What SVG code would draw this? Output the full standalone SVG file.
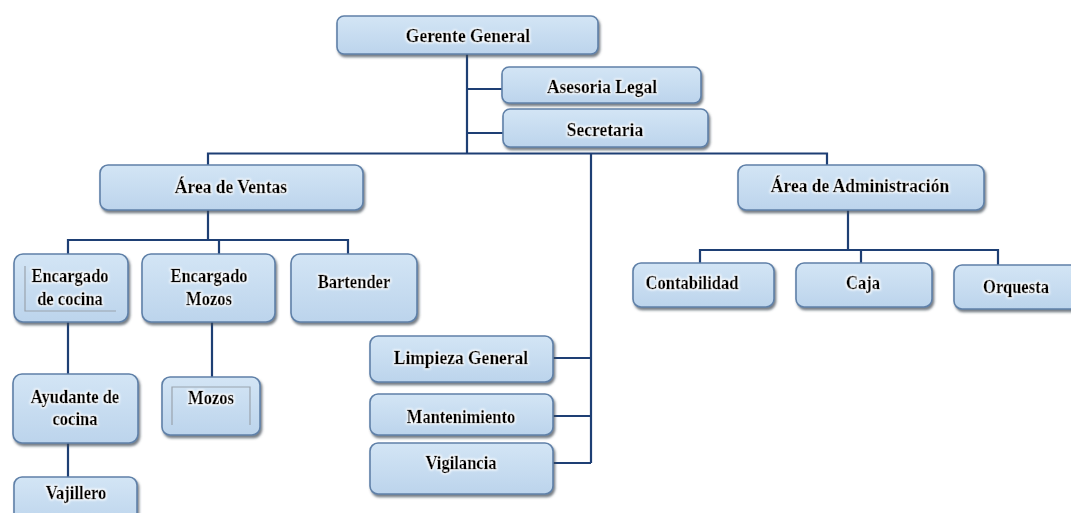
<svg xmlns="http://www.w3.org/2000/svg" width="1071" height="513" viewBox="0 0 1071 513">
<style>
.box{fill:url(#g);stroke:#5f80a8;stroke-width:1.6;filter:url(#sh)}
.c{fill:none;stroke:#1e3f74;stroke-width:2.2}
.t{font-family:"Liberation Serif","Times New Roman",serif;font-weight:bold;font-size:18px;fill:#000;stroke:#000;stroke-width:0.35;text-anchor:middle;filter:url(#glow);transform-box:fill-box;transform-origin:center;transform:scaleX(0.92)}
.l{font-size:19px}
.f{fill:none;stroke:#9aa3ad;stroke-width:1.2}
</style>
<defs>
<linearGradient id="g" x1="0" y1="0" x2="0" y2="1">
<stop offset="0" stop-color="#d3e5f5"/>
<stop offset="1" stop-color="#bcd4ec"/>
</linearGradient>
<filter id="sh" x="-10%" y="-20%" width="130%" height="150%">
<feDropShadow dx="1.5" dy="2.5" stdDeviation="1.3" flood-color="#3a4552" flood-opacity="0.7"/>
</filter>
<filter id="glow" x="-10%" y="-30%" width="120%" height="160%">
<feMorphology in="SourceAlpha" operator="dilate" radius="1" result="d"/>
<feGaussianBlur in="d" stdDeviation="1" result="b"/>
<feFlood flood-color="#ffffff"/>
<feComposite in2="b" operator="in" result="w"/>
<feMerge><feMergeNode in="w"/><feMergeNode in="SourceGraphic"/></feMerge>
</filter>
</defs>
<g id="connectors">
<path class="c" d="M467,54 V153.5 M467,89 H502 M467,133 H503"/>
<path class="c" d="M208,165 V153.5 H827 V165"/>
<path class="c" d="M208,210 V240 M68,254 V240 H348 V254 M219,240 V254"/>
<path class="c" d="M68,322 V374 M68,443 V477 M212,322 V377"/>
<path class="c" d="M591,153.5 V463 M553,358 H591 M553,416 H591 M553,463 H591"/>
<path class="c" d="M848,210 V250 M700,263 V250 H998 V265 M861,250 V263"/>
</g>
<g id="gerente"><rect class="box" x="337" y="16" width="261" height="38" rx="7"/><text class="t l" x="468" y="42">Gerente General</text></g>
<g id="asesoria"><rect class="box" x="502" y="67" width="199" height="36" rx="7"/><text class="t l" x="602" y="93">Asesoria Legal</text></g>
<g id="secretaria"><rect class="box" x="503" y="109" width="205" height="38" rx="7"/><text class="t l" x="605" y="136">Secretaria</text></g>
<g id="ventas"><rect class="box" x="100" y="165" width="263" height="45" rx="8"/><text class="t l" x="231" y="193">Área de Ventas</text></g>
<g id="administracion"><rect class="box" x="738" y="165" width="246" height="45" rx="8"/><text class="t l" x="860" y="192">Área de Administración</text></g>
<g id="enc-cocina"><rect class="box" x="14" y="254" width="114" height="68" rx="9"/><path class="f" d="M25,266 V311 H116"/><text class="t" x="70" y="282">Encargado</text><text class="t" x="70" y="305">de cocina</text></g>
<g id="enc-mozos"><rect class="box" x="142" y="254" width="133" height="68" rx="9"/><text class="t" x="209" y="282">Encargado</text><text class="t" x="209" y="305">Mozos</text></g>
<g id="bartender"><rect class="box" x="291" y="254" width="126" height="68" rx="9"/><text class="t" x="354" y="288">Bartender</text></g>
<g id="ayudante"><rect class="box" x="13" y="374" width="125" height="69" rx="9"/><text class="t" x="75" y="403">Ayudante de</text><text class="t" x="75" y="425">cocina</text></g>
<g id="mozos"><rect class="box" x="162" y="377" width="98" height="58" rx="8"/><path class="f" d="M172,425 V387 H250 V425"/><text class="t" x="211" y="404">Mozos</text></g>
<g id="vajillero"><rect class="box" x="14" y="477" width="123" height="50" rx="8"/><text class="t" x="76" y="499">Vajillero</text></g>
<g id="limpieza"><rect class="box" x="370" y="336" width="183" height="46" rx="8"/><text class="t l" x="461" y="364">Limpieza General</text></g>
<g id="mantenimiento"><rect class="box" x="370" y="394" width="183" height="41" rx="8"/><text class="t" x="461" y="423">Mantenimiento</text></g>
<g id="vigilancia"><rect class="box" x="370" y="443" width="183" height="51" rx="8"/><text class="t" x="461" y="469">Vigilancia</text></g>
<g id="contabilidad"><rect class="box" x="633" y="263" width="141" height="44" rx="8"/><text class="t" x="692" y="289">Contabilidad</text></g>
<g id="caja"><rect class="box" x="796" y="263" width="136" height="44" rx="8"/><text class="t" x="863" y="289">Caja</text></g>
<g id="orquesta"><rect class="box" x="954" y="265" width="125" height="44" rx="8"/><text class="t" x="1016" y="293">Orquesta</text></g>
</svg>
